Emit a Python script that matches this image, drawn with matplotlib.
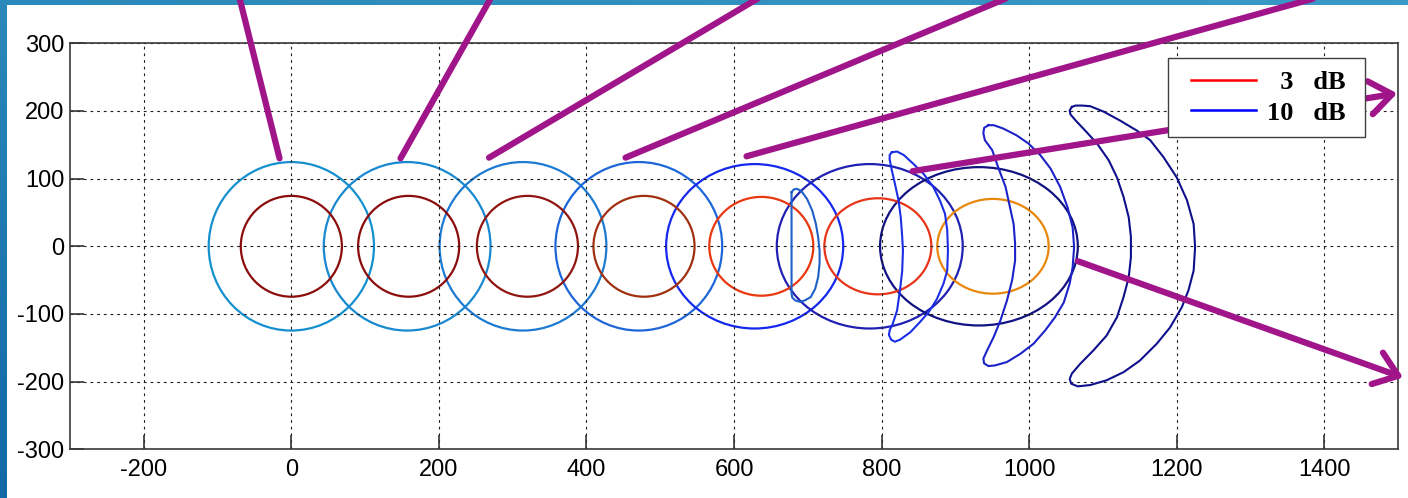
import matplotlib.pyplot as plt
import numpy as np
from matplotlib.legend_handler import HandlerLine2D
from matplotlib.lines import Line2D
from matplotlib.patches import Ellipse

# 10 dB contours (near circular): centre x, full width, full height
outer_cx = [0, 157, 314, 471, 628, 784, 932]
outer_w = [224, 226, 226, 226, 240, 252, 268]
outer_h = [249, 249, 249, 249, 243, 243, 234]

# 3 dB contours
inner_cx = [0, 159, 320, 478, 637, 795, 951]
inner_w = [137, 137, 137, 137, 141, 145, 151]
inner_h = [149, 149, 149, 149, 146, 142, 140]

# side-lobe contours (10 dB)
lobe1_x = [678, 681, 685, 691, 699, 706, 711, 714, 716, 716, 714, 710, 704, 696, 689, 683,
           679, 678, 678]
lobe1_y = [80, 84, 85, 82, 70, 53, 33, 14, -6, -26, -46, -63, -75, -80, -82, -80, -76,
           -70, 80]

lobe2_x = [814, 811, 811, 814, 818, 823, 826, 828, 829, 828, 825, 821, 815, 811, 810, 813,
           818, 825, 839, 852, 864, 875, 884, 889, 890, 889, 886, 879, 870, 857, 843, 830,
           821, 814]
lobe2_y = [139, 135, 128, 112, 93, 68, 43, 14, -6, -36, -65, -95, -115, -124, -131, -138,
           -141, -138, -127, -112, -97, -78, -55, -36, -6, 24, 48, 68, 88, 107, 122, 135,
           140, 139]

lobe3_x = [945, 939, 938, 940, 950, 958, 968, 974, 979, 981, 981, 977, 970, 961, 952, 943,
           938, 939, 945, 954, 970, 988, 1006, 1022, 1035, 1047, 1055, 1059, 1061, 1059,
           1052, 1042, 1029, 1015, 999, 983, 965, 952, 945]
lobe3_y = [179, 175, 167, 157, 142, 117, 88, 58, 33, 4, -21, -50, -80, -110, -134, -154,
           -166, -173, -177, -176, -171, -159, -144, -124, -105, -83, -55, -31, -1, 28, 58,
           88, 115, 135, 152, 164, 174, 179, 179]

lobe4_x = [1058, 1063, 1072, 1083, 1101, 1123, 1146, 1164, 1182, 1200, 1214, 1223, 1225,
           1223, 1216, 1207, 1191, 1173, 1150, 1128, 1105, 1083, 1066, 1057, 1055, 1058,
           1069, 1087, 1105, 1119, 1128, 1135, 1138, 1138, 1135, 1128, 1119, 1108, 1092,
           1076, 1063, 1056, 1055, 1058]
lobe4_y = [206, 208, 208, 207, 199, 186, 171, 157, 132, 102, 68, 33, -1, -36, -65, -90,
           -120, -144, -169, -186, -198, -205, -207, -203, -196, -188, -174, -154, -132,
           -105, -75, -46, -16, 14, 43, 73, 102, 127, 152, 171, 186, 195, 201, 206]

lobes = [(lobe1_x, lobe1_y), (lobe2_x, lobe2_y), (lobe3_x, lobe3_y), (lobe4_x, lobe4_y)]

x_ticks = [-200, 0, 200, 400, 600, 800, 1000, 1200, 1400]
y_ticks = [-300, -200, -100, 0, 100, 200, 300]
legend_labels = ["  3   dB ", "10   dB "]

# slide call-outs drawn over the figure: (start, end) in data units
callouts = [((-70, 366), (-16, 130)), ((270, 366), (148, 130)),
            ((632, 366), (268, 131)), ((968, 366), (453, 131)),
            ((1385, 366), (617, 133))]
arrows = [((842, 111), (1499, 226)), ((1066, -22), (1507, -194))]

outer_colors = ["#1590cf", "#1888d0", "#1c7ad3", "#1e66d8", "#1428ee", "#2020b2", "#121282"]
inner_colors = ["#8b0c0c", "#8b0c0c", "#901410", "#a0300f", "#e8380f", "#e8351a", "#e8870c"]
lobe_colors = ["#1f60c8", "#1a2ee6", "#1c22c8", "#10108c"]
purple = "#a0168a"

plt.rcParams["font.family"] = ["Liberation Sans", "DejaVu Sans"]
plt.rcParams["axes.unicode_minus"] = False

fig = plt.figure(figsize=(14.08, 4.98), dpi=100)
fig.patch.set_facecolor("white")

# blue slide border, left and top
band_left = fig.add_axes([0, 0, 7 / 1408, 1], zorder=-2)
band_left.imshow(np.linspace(0, 1, 64).reshape(-1, 1), aspect="auto",
                 cmap=plt.matplotlib.colors.LinearSegmentedColormap.from_list(
                     "b", ["#2b88ba", "#1269a6"]))
band_left.axis("off")
band_top = fig.add_axes([0, 1 - 5 / 498, 1, 5 / 498], zorder=-2)
band_top.imshow(np.linspace(0, 1, 64).reshape(1, -1), aspect="auto",
                cmap=plt.matplotlib.colors.LinearSegmentedColormap.from_list(
                    "t", ["#2b88ba", "#3a9ac6"]))
band_top.axis("off")

ax = fig.add_axes([70 / 1408, 48.7 / 498, 1328 / 1408, 406 / 498])

for cx, w, h, c in zip(outer_cx, outer_w, outer_h, outer_colors):
    ax.add_patch(Ellipse((cx, 0), w, h, fill=False, ec=c, lw=1.6))
for cx, w, h, c in zip(inner_cx, inner_w, inner_h, inner_colors):
    ax.add_patch(Ellipse((cx, 0), w, h, fill=False, ec=c, lw=1.6))
for (lx, ly), c in zip(lobes, lobe_colors):
    ax.plot(lx, ly, color=c, lw=1.5)

ax.set_xlim(-300, 1500)
ax.set_ylim(-300, 300)
ax.set_xticks(x_ticks)
ax.set_yticks(y_ticks)
ax.grid(True, color="#202020", linestyle=(0, (2.5, 3.5)), linewidth=0.8)
ax.tick_params(direction="in", length=10, width=1.2, labelsize=17,
               colors="#333333", labelcolor="black")
ax.tick_params(axis="x", pad=7)
ax.tick_params(axis="y", pad=4)
for side in ax.spines.values():
    side.set_color("#3a3a3a")
    side.set_linewidth(1.2)

handles = [Line2D([], [], color="red", lw=1.8), Line2D([], [], color="blue", lw=1.8)]
leg = ax.legend(handles, legend_labels, loc="upper right",
                bbox_to_anchor=(0.975, 0.963), borderaxespad=0,
                prop={"family": "Liberation Serif", "weight": "bold", "size": 19},
                handlelength=2.84, handletextpad=0.42, labelspacing=0.25,
                borderpad=0.48, fancybox=False, framealpha=1, edgecolor="#404040",
                handler_map={Line2D: HandlerLine2D(xpad=0.37)})
leg.get_frame().set_linewidth(1.0)

for start, end in callouts:
    ax.annotate("", xy=end, xytext=start, annotation_clip=False,
                arrowprops=dict(arrowstyle="-", color=purple, lw=4.5,
                                shrinkA=0, shrinkB=0, capstyle="round"))
for start, end in arrows:
    ax.annotate("", xy=end, xytext=start, annotation_clip=False,
                arrowprops=dict(arrowstyle="->,head_length=1.0,head_width=0.75",
                                mutation_scale=16, color=purple, lw=4.5,
                                shrinkA=0, shrinkB=0, capstyle="round",
                                joinstyle="round"))

fig.savefig("out.png", dpi=100)
